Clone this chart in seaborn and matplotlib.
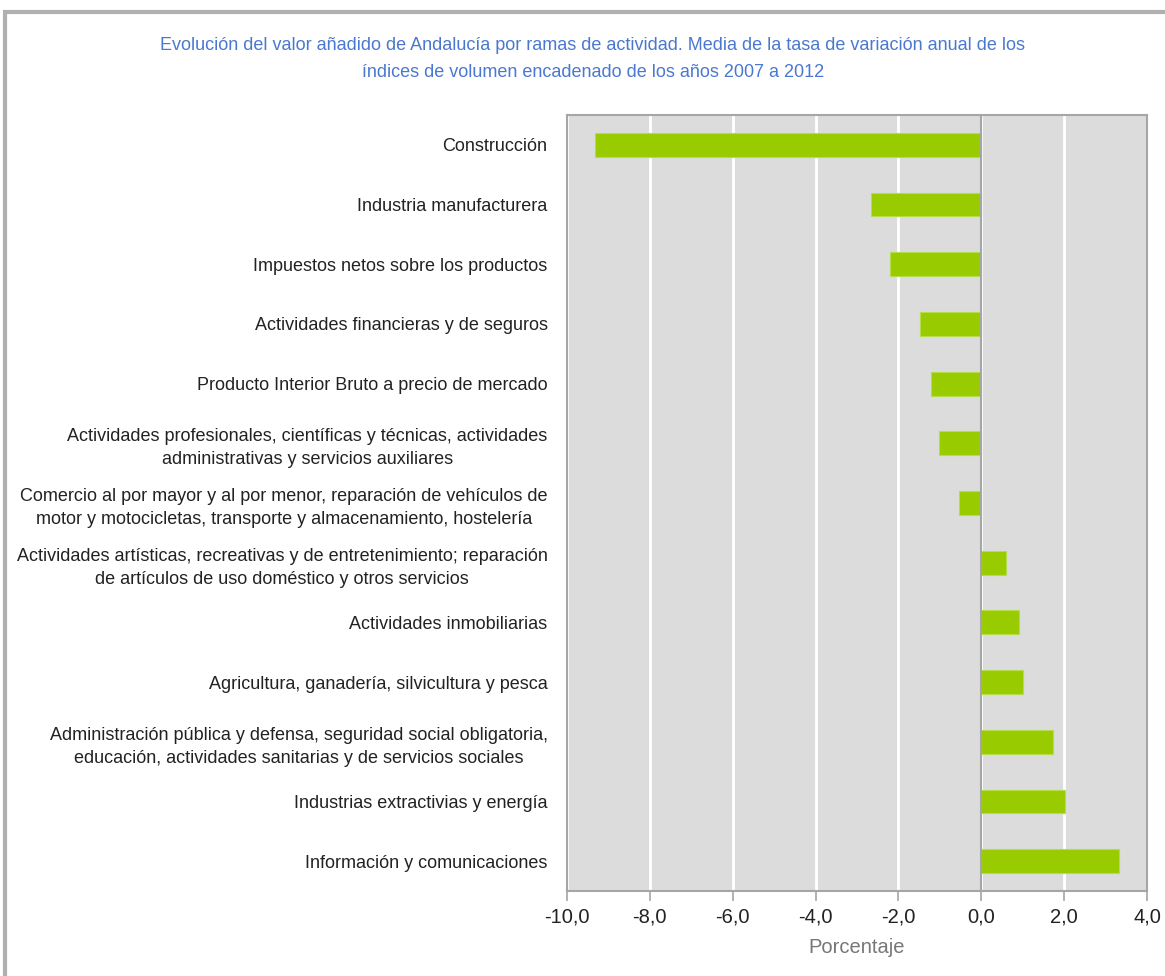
import numpy as np
import pandas as pd
import matplotlib
matplotlib.use('Agg')
import matplotlib.pyplot as plt
import seaborn as sns
from matplotlib.patches import Rectangle

# datos: ramas de actividad y media de la tasa de variación (%)
ramas = [
    'Construcción',
    'Industria manufacturera',
    'Impuestos netos sobre los productos',
    'Actividades financieras y de seguros',
    'Producto Interior Bruto a precio de mercado',
    'Actividades profesionales, científicas y técnicas, actividades\nadministrativas y servicios auxiliares',
    'Comercio al por mayor y al por menor, reparación de vehículos de\nmotor y motocicletas, transporte y almacenamiento, hostelería',
    'Actividades artísticas, recreativas y de entretenimiento; reparación\nde artículos de uso doméstico y otros servicios',
    'Actividades inmobiliarias',
    'Agricultura, ganadería, silvicultura y pesca',
    'Administración pública y defensa, seguridad social obligatoria,\neducación, actividades sanitarias y de servicios sociales',
    'Industrias extractivias y energía',
    'Información y comunicaciones',
]
tasas = [-9.32, -2.66, -2.20, -1.47, -1.21, -1.01, -0.54, 0.59, 0.90, 1.00, 1.74, 2.01, 3.33]
ticks_x = [-10, -8, -6, -4, -2, 0, 2, 4]

df = pd.DataFrame({'rama': ramas, 'tasa': tasas})

sns.set_style('white')
plt.rcParams['font.family'] = ['Liberation Sans', 'DejaVu Sans']

fig = plt.figure(figsize=(11.65, 9.76), dpi=100)
ax = fig.add_axes([0.4867, 0.0871, 0.4978, 0.7951])

# marco exterior gris
fig.patches.append(Rectangle((5 / 1165, -0.1), 1.2, 1 - 12 / 976 + 0.1, transform=fig.transFigure,
                             fill=False, edgecolor='#b0b0b0', linewidth=3, zorder=0))

ax.set_facecolor('#dcdcdc')
sns.barplot(data=df, x='tasa', y='rama', orient='h', color='#99cc00', saturation=1, width=0.4,
            edgecolor='#b5dc4a', linewidth=0.8, ax=ax, zorder=3)

ax.set_xlim(-10, 4)
ax.set_xticks(ticks_x)
ax.set_xticklabels([f'{t:.1f}'.replace('.', ',') for t in ticks_x])
ax.grid(axis='x', color='white', linewidth=2, zorder=0)
ax.set_axisbelow(True)
ax.axvline(0, color='#a6a6a6', linewidth=1.5, zorder=4)

for s in ax.spines.values():
    s.set_color('#a6a6a6')
    s.set_linewidth(1.5)

ax.tick_params(axis='x', which='major', length=7, width=1.2, color='#a6a6a6',
               labelsize=14.5, labelcolor='#222222', pad=5, bottom=True)
ax.tick_params(axis='y', length=0, labelsize=13, labelcolor='#222222', pad=14)
for lab in ax.get_yticklabels():
    lab.set_multialignment('center')
    lab.set_linespacing(1.45)

ax.set_ylabel(None)
ax.set_xlabel('Porcentaje', fontsize=14.5, color='#777777', labelpad=8)

fig.text(0.509, 0.9395,
         'Evolución del valor añadido de Andalucía por ramas de actividad. Media de la tasa de variación anual de los\n'
         'índices de volumen encadenado de los años 2007 a 2012',
         ha='center', va='center', fontsize=13, color='#4a78d0', linespacing=1.75)

plt.savefig('out.png', dpi=100)
